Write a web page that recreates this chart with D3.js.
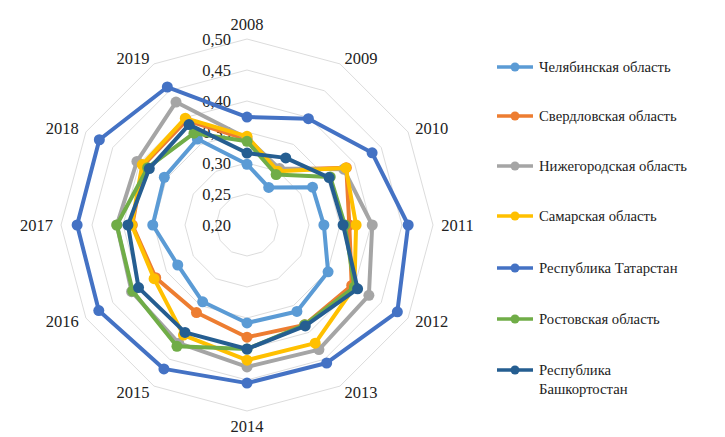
<!DOCTYPE html>
<html><head><meta charset="utf-8">
<script src="https://cdn.jsdelivr.net/npm/d3@7"></script>
<style>body{margin:0;background:#fff}svg{display:block}</style>
</head><body>
<svg id="c" width="725" height="437"></svg>
<script>
const years = ["2008","2009","2010","2011","2012","2013","2014","2015","2016","2017","2018","2019"];
const ticks = [0.20,0.25,0.30,0.35,0.40,0.45,0.50];
const seriesNames = ["Челябинская область","Свердловская область","Нижегородская область","Самарская область","Республика Татарстан","Ростовская область","Республика Башкортостан"];
const chelyabinsk = [0.298,0.270,0.322,0.324,0.351,0.361,0.358,0.343,0.329,0.352,0.354,0.360];
const sverdlovsk  = [0.338,0.303,0.385,0.365,0.395,0.386,0.381,0.363,0.370,0.385,0.393,0.395];
const nizhny      = [0.340,0.305,0.380,0.402,0.427,0.432,0.429,0.420,0.415,0.410,0.405,0.429];
const samara      = [0.343,0.300,0.384,0.376,0.400,0.420,0.418,0.405,0.373,0.386,0.395,0.399];
const tatarstan   = [0.374,0.398,0.433,0.460,0.480,0.457,0.455,0.468,0.476,0.474,0.475,0.457];
const rostov      = [0.335,0.294,0.355,0.358,0.400,0.386,0.400,0.426,0.413,0.410,0.385,0.371];
const bashkortostan=[0.316,0.325,0.353,0.355,0.406,0.388,0.400,0.400,0.402,0.392,0.382,0.387];
const seriesValues = [chelyabinsk,sverdlovsk,nizhny,samara,tatarstan,rostov,bashkortostan];
const colors = ["#5B9BD5","#ED7D31","#A5A5A5","#FFC000","#4472C4","#70AD47","#255E91"];

const svg = d3.select("#c");
const cx = 247, cy = 225, R = 186;
const font = "'Liberation Serif','Times New Roman',serif";
const r = d3.scaleLinear().domain([0.20,0.50]).range([0,R]);
const ang = d3.scalePoint().domain(years).range([0, 2*Math.PI*(11/12)]);
const pt = (y,v) => { const a = ang(y); return [cx + r(v)*Math.sin(a), cy - r(v)*Math.cos(a)]; };

const g = svg.append("g");
// grid rings
ticks.slice(1).forEach(t => {
  g.append("path")
    .attr("d", d3.line()(years.map(y => pt(y,t))) + "Z")
    .attr("fill","none").attr("stroke","#dcdcdc").attr("stroke-width",1);
});
// axis tick labels
g.selectAll("text.tick").data(ticks).join("text")
  .attr("x", cx - 16).attr("y", d => cy - r(d)).attr("dy","0.35em")
  .attr("text-anchor","end").attr("font-family",font).attr("font-size",16.5).attr("fill","#222")
  .text(d => d3.format(".2f")(d).replace(".",","));
// year labels
const LR = R + 7;
g.selectAll("text.yr").data(years).join("text")
  .attr("x", d => { const s = Math.sin(ang(d)); return cx + s*LR + (Math.abs(s) > 0.01 ? Math.sign(s)*17.5 : 0); })
  .attr("y", d => { const s = Math.sin(ang(d)), c = Math.cos(ang(d)); return cy - c*LR - (Math.abs(s) < 0.01 ? Math.sign(c)*8 : 0); })
  .attr("dy","0.35em").attr("text-anchor","middle")
  .attr("font-family",font).attr("font-size",16.5).attr("fill","#222")
  .text(d => d);

// series
seriesValues.forEach((vals,i) => {
  const pts = years.map((y,j) => pt(y, vals[j]));
  g.append("path").attr("d", d3.line()(pts) + "Z")
    .attr("fill","none").attr("stroke",colors[i]).attr("stroke-width",4).attr("stroke-linejoin","round");
  g.selectAll(null).data(pts).join("circle")
    .attr("cx", d => d[0]).attr("cy", d => d[1]).attr("r",5.5).attr("fill",colors[i]);
});

// legend
const ly = [67,116,166,216,268,319,370];
const lg = svg.append("g");
seriesNames.forEach((n,i) => {
  lg.append("line").attr("x1",497).attr("x2",533).attr("y1",ly[i]).attr("y2",ly[i])
    .attr("stroke",colors[i]).attr("stroke-width",3.5);
  lg.append("circle").attr("cx",515).attr("cy",ly[i]).attr("r",4.5).attr("fill",colors[i]);
  const t = lg.append("text").attr("x",539).attr("y",ly[i]).attr("dy","0.35em")
    .attr("font-family",font).attr("font-size",14.7).attr("fill","#222");
  if (i === 6) {
    t.append("tspan").attr("x",539).text("Республика");
    t.append("tspan").attr("x",539).attr("dy","1.25em").text("Башкортостан");
  } else t.text(n);
});
</script>
</body></html>
